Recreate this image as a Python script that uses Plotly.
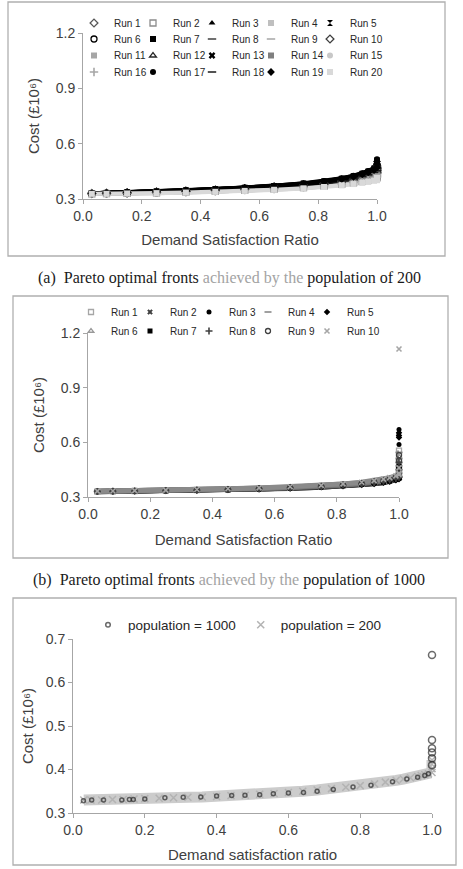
import plotly.graph_objects as go

W, H = 463, 869


def px(v):
    return v / W


def py(v):
    return 1 - v / H


FONT = "Liberation Sans, Arial, Helvetica, sans-serif"
SERIF = "Liberation Serif, Times New Roman, serif"
TXT = "#404040"
AXC = "#a6a6a6"

# ---------------- tick labels ----------------
X_TICKS = [0.0, 0.2, 0.4, 0.6, 0.8, 1.0]
AB_Y_TICKS = [0.3, 0.6, 0.9, 1.2]
C_Y_TICKS = [0.3, 0.4, 0.5, 0.6, 0.7]

# ---------------- panel (a): population 200, 20 runs ----------------
A_X = [0.03, 0.08, 0.15, 0.25, 0.35, 0.45, 0.55, 0.65, 0.75, 0.82, 0.88, 0.92, 0.95, 0.97, 0.99, 1.0, 1.0, 1.0]
A_RUN1 = [.330, .331, .333, .337, .342, .347, .354, .362, .373, .383, .395, .406, .417, .425, .437, .445, .459, .470]
A_RUN2 = [.328, .329, .331, .333, .337, .341, .347, .353, .362, .370, .380, .388, .396, .402, .409, .414, .422, .429]
A_RUN3 = [.331, .332, .335, .340, .345, .352, .359, .369, .381, .392, .406, .419, .432, .443, .458, .468, .486, .500]
A_RUN4 = [.328, .328, .330, .332, .336, .340, .345, .351, .359, .367, .376, .383, .391, .396, .402, .406, .413, .419]
A_RUN5 = [.331, .333, .336, .341, .346, .353, .361, .371, .384, .395, .410, .424, .437, .449, .465, .476, .495, .510]
A_RUN6 = [.330, .332, .334, .338, .343, .350, .357, .365, .377, .387, .401, .413, .424, .434, .447, .457, .472, .485]
A_RUN7 = [.331, .333, .335, .340, .346, .353, .360, .370, .382, .394, .408, .422, .435, .446, .461, .472, .491, .505]
A_RUN8 = [.330, .331, .334, .337, .342, .348, .355, .363, .374, .384, .397, .408, .419, .428, .440, .449, .463, .475]
A_RUN9 = [.329, .330, .332, .335, .339, .344, .349, .357, .366, .375, .385, .395, .404, .411, .420, .425, .436, .444]
A_RUN10 = [.330, .331, .333, .337, .341, .347, .353, .361, .372, .381, .393, .404, .414, .423, .434, .441, .454, .465]
A_RUN11 = [.329, .329, .332, .334, .338, .343, .349, .356, .365, .373, .384, .392, .401, .408, .416, .422, .431, .439]
A_RUN12 = [.330, .332, .335, .339, .344, .350, .358, .367, .378, .389, .403, .415, .427, .437, .451, .461, .477, .490]
A_RUN13 = [.330, .332, .335, .339, .345, .351, .358, .368, .380, .391, .404, .417, .430, .440, .454, .464, .482, .495]
A_RUN14 = [.329, .330, .332, .336, .340, .345, .351, .359, .369, .378, .389, .399, .409, .417, .427, .433, .445, .454]
A_RUN15 = [.328, .329, .331, .333, .336, .341, .346, .352, .361, .368, .378, .386, .393, .399, .406, .410, .417, .424]
A_RUN16 = [.329, .329, .331, .334, .337, .342, .348, .354, .363, .371, .382, .390, .398, .405, .413, .418, .426, .434]
A_RUN17 = [.331, .333, .336, .341, .347, .354, .362, .372, .385, .397, .412, .426, .440, .452, .468, .480, .500, .515]
A_RUN18 = [.330, .331, .334, .338, .343, .349, .356, .364, .376, .386, .399, .410, .422, .431, .444, .453, .468, .480]
A_RUN19 = [.331, .333, .336, .340, .346, .352, .360, .369, .380, .393, .407, .420, .433, .444, .457, .470, .488, .503]
A_RUN20 = [.328, .328, .330, .332, .335, .339, .344, .350, .358, .365, .374, .381, .388, .393, .399, .402, .408, .414]
A_RUNS = [A_RUN1, A_RUN2, A_RUN3, A_RUN4, A_RUN5, A_RUN6, A_RUN7, A_RUN8, A_RUN9, A_RUN10,
          A_RUN11, A_RUN12, A_RUN13, A_RUN14, A_RUN15, A_RUN16, A_RUN17, A_RUN18, A_RUN19, A_RUN20]
A_NAMES = ["Run %d" % i for i in range(1, 21)]

# ---------------- panel (b): population 1000, 10 runs ----------------
B_X = [0.03, 0.08, 0.15, 0.25, 0.35, 0.45, 0.55, 0.65, 0.75, 0.82, 0.88, 0.92, 0.95, 0.97, 0.99,
       1.0, 1.0, 1.0, 1.0, 1.0, 1.0]
B_RUN1 = [.330, .331, .333, .335, .338, .341, .346, .351, .358, .365, .373, .381, .388, .395, .404, .410, .430, .460, .500, .530, .555]
B_RUN2 = [.330, .331, .332, .334, .337, .340, .344, .350, .356, .363, .370, .377, .384, .391, .399, .405, .440, .470, None, None, None]
B_RUN3 = [.329, .330, .331, .333, .336, .339, .343, .348, .354, .360, .368, .374, .380, .386, .394, .400, .450, None, .588, None, .670]
B_RUN4 = [.331, .332, .333, .336, .339, .342, .347, .352, .360, .367, .375, .383, .390, .397, .406, .412, .430, .470, .510, .545, None]
B_RUN5 = [.329, .330, .331, .333, .335, .338, .342, .347, .353, .359, .366, .372, .378, .384, .392, .398, .460, None, .626, .637, .653]
B_RUN6 = [.331, .332, .334, .337, .340, .344, .348, .354, .362, .369, .378, .387, .394, .402, .411, .417, .440, .480, .520, None, None]
B_RUN7 = [.330, .331, .332, .334, .336, .339, .344, .349, .355, .362, .369, .376, .382, .388, .397, .403, .440, .470, None, None, None]
B_RUN8 = [.330, .331, .333, .335, .337, .341, .345, .351, .357, .364, .372, .379, .386, .393, .402, .408, .450, .490, None, None, None]
B_RUN9 = [.331, .332, .334, .336, .339, .343, .348, .353, .361, .368, .376, .385, .392, .400, .409, .415, .440, .500, .530, None, None]
B_RUN10 = [.332, .333, .335, .338, .341, .345, .350, .356, .364, .372, .381, .390, .398, .406, .416, .422, .430, .460, None, 1.112, None]
B_RUNS = [B_RUN1, B_RUN2, B_RUN3, B_RUN4, B_RUN5, B_RUN6, B_RUN7, B_RUN8, B_RUN9, B_RUN10]
B_NAMES = ["Run %d" % i for i in range(1, 11)]

# ---------------- panel (c): comparison ----------------
C_X200 = [0.03, 0.05, 0.08, 0.11, 0.14, 0.17, 0.20, 0.24, 0.28, 0.32, 0.36, 0.40, 0.44, 0.48, 0.52, 0.56, 0.60,
          0.64, 0.68, 0.72, 0.76, 0.80, 0.84, 0.87, 0.90, 0.92, 0.94, 0.96, 0.97, 0.98, 0.99, 1.0, 1.0, 1.0, 1.0]
C_Y200 = [0.330, 0.330, 0.330, 0.331, 0.331, 0.332, 0.333, 0.334, 0.335, 0.336, 0.337, 0.338, 0.340, 0.341, 0.343,
          0.345, 0.347, 0.350, 0.353, 0.356, 0.359, 0.363, 0.367, 0.371, 0.375, 0.378, 0.381, 0.384, 0.386, 0.388,
          0.390, 0.393, 0.402, 0.412, 0.422]
C_X1000 = [0.029, 0.052, 0.085, 0.136, 0.157, 0.168, 0.200, 0.256, 0.307, 0.356, 0.400, 0.442, 0.479, 0.520, 0.558,
           0.600, 0.642, 0.680, 0.725, 0.780, 0.830, 0.890, 0.930, 0.960, 0.980, 0.990, 1.0, 1.0, 1.0, 1.0, 1.0, 1.0]
C_Y1000 = [0.328, 0.330, 0.330, 0.330, 0.331, 0.331, 0.332, 0.335, 0.336, 0.337, 0.339, 0.340, 0.341, 0.342, 0.344,
           0.346, 0.347, 0.350, 0.354, 0.360, 0.364, 0.372, 0.378, 0.382, 0.386, 0.390, 0.410, 0.426, 0.439, 0.449,
           0.468, 0.663]
C_NAMES = ["population = 1000", "population = 200"]

# ---------------- texts ----------------
Y_TITLE = "Cost (£10\u2076)"
X_TITLE_AB = "Demand Satisfaction Ratio"
X_TITLE_C = "Demand satisfaction ratio"
GR = "<span style='color:#a3a3a3'>achieved by the</span>"
CAPTION_A = "(a)\u00a0\u00a0Pareto optimal fronts " + GR + " population of 200"
CAPTION_B = "(b)\u00a0\u00a0Pareto optimal fronts " + GR + " population of 1000"

# ---------------- styles ----------------
A_SYMBOLS = ['diamond-open', 'square-open', 'triangle-up', 'square', 'hourglass',
             'circle-open', 'square', 'line-ew-open', 'line-ew-open', 'diamond-open',
             'square', 'triangle-up-open', 'x', 'square', 'circle',
             'cross-thin-open', 'circle', 'line-ew-open', 'diamond', 'square']
A_COLORS = ['#595959', '#8c8c8c', '#000000', '#bfbfbf', '#000000',
            '#000000', '#000000', '#404040', '#a6a6a6', '#404040',
            '#a6a6a6', '#262626', '#000000', '#7f7f7f', '#c8c8c8',
            '#a6a6a6', '#000000', '#1a1a1a', '#000000', '#d9d9d9']
A_LEGENDS = ['legend'] * 5 + ['legend2'] * 5 + ['legend3'] * 5 + ['legend4'] * 5

B_SYMBOLS = ['square-open', 'x', 'circle', 'line-ew-open', 'diamond',
             'triangle-up-open', 'square', 'cross-thin-open', 'circle-open', 'x-thin-open']
B_COLORS = ['#a6a6a6', '#404040', '#000000', '#808080', '#000000',
            '#999999', '#000000', '#404040', '#404040', '#a6a6a6']
B_LINE_COLORS = ['#8c8c8c', '#5a5a5a', '#3a3a3a', '#8c8c8c', '#3a3a3a',
                 '#9a9a9a', '#3a3a3a', '#6e6e6e', '#7a7a7a', '#8a8a8a']
B_LEGENDS = ['legend5'] * 5 + ['legend6'] * 5

fig = go.Figure()


def line_width_for(sym):
    if sym.startswith('line') or 'thin' in sym:
        return 1.6
    if sym.endswith('-open'):
        return 1.3
    return 0


def add_runs(xs, runs, names, symbols, colors, line_colors, legends, xref, yref, msize, lw):
    for ys, lc in zip(runs, line_colors):
        fig.add_trace(go.Scatter(x=xs, y=ys, mode='lines', line=dict(color=lc, width=lw),
                                 xaxis=xref, yaxis=yref, showlegend=False, hoverinfo='skip',
                                 cliponaxis=False, connectgaps=False))
    for i, (ys, n, s, c, lg) in enumerate(zip(runs, names, symbols, colors, legends)):
        # last entry of each legend row gets room for its label
        lw_item = 45 if i % 5 == 4 else 14
        fig.add_trace(go.Scatter(x=xs, y=ys, mode='markers', name=n, legend=lg, legendwidth=lw_item,
                                 marker=dict(symbol=s, size=msize, color=c,
                                             line=dict(color=c, width=line_width_for(s))),
                                 xaxis=xref, yaxis=yref, cliponaxis=False))


add_runs(A_X, A_RUNS, A_NAMES, A_SYMBOLS, A_COLORS, A_COLORS, A_LEGENDS, 'x', 'y', 6, 4.2)
add_runs(B_X, B_RUNS, B_NAMES, B_SYMBOLS, B_COLORS, B_LINE_COLORS, B_LEGENDS, 'x2', 'y2', 5, 5)

# panel (c)
fig.add_trace(go.Scatter(x=C_X200, y=C_Y200, mode='lines', line=dict(color='#cccccc', width=11),
                         xaxis='x3', yaxis='y3', showlegend=False, hoverinfo='skip', cliponaxis=False))
fig.add_trace(go.Scatter(x=C_X200, y=C_Y200, mode='markers', name=C_NAMES[1], legend='legend7', legendrank=2,
                         marker=dict(symbol='x-thin-open', size=7, color='#b3b3b3',
                                     line=dict(color='#b3b3b3', width=1.5)),
                         xaxis='x3', yaxis='y3', cliponaxis=False))
# points on the front read as small dots; the isolated high-cost points as visible rings
c1000_sizes = [7 if y > 0.4 else 4 for y in C_Y1000]
fig.add_trace(go.Scatter(x=C_X1000, y=C_Y1000, mode='markers', name=C_NAMES[0], legend='legend7', legendrank=1,
                         marker=dict(symbol='circle-open', size=c1000_sizes, color='#2b2b2b',
                                     line=dict(color='#2b2b2b', width=1.5)),
                         xaxis='x3', yaxis='y3', cliponaxis=False))

ax = dict(showline=True, linecolor=AXC, linewidth=1, ticks='outside', ticklen=4, tickwidth=1,
          tickcolor=AXC, showgrid=False, zeroline=False, automargin=False,
          tickfont=dict(family=FONT, size=14, color=TXT), tickformat='.1f', fixedrange=True)


def xtitle(text, standoff):
    return dict(text=text, standoff=standoff, font=dict(family=FONT, size=15, color=TXT))


def legend_cfg(xpx, ypx, size):
    return dict(x=px(xpx), y=py(ypx), xanchor='left', yanchor='middle', orientation='h',
                font=dict(family=FONT, size=size, color='#262626'), bgcolor='rgba(0,0,0,0)',
                borderwidth=0, itemwidth=30,
                traceorder='normal', itemclick=False, itemdoubleclick=False)


annotations = []


def note(text, x, y, size, family=FONT, color=TXT):
    annotations.append(dict(text=text, x=px(x), y=py(y), xref='paper', yref='paper', showarrow=False,
                            xanchor='center', yanchor='middle',
                            font=dict(family=family, size=size, color=color)))


note(CAPTION_A, 229, 278, 16, SERIF, '#1a1a1a')
note(CAPTION_B, 229, 580, 16, SERIF, '#1a1a1a')

shapes = []
for x0, y0, x1, y1 in [(8, 2, 445, 256), (13, 296, 448, 558), (13, 598, 456, 865)]:
    shapes.append(dict(type='rect', xref='paper', yref='paper', x0=px(x0), x1=px(x1), y0=py(y1), y1=py(y0),
                       line=dict(color='#b0b0b0', width=1.3), fillcolor='rgba(0,0,0,0)'))

fig.update_layout(
    width=W, height=H, margin=dict(l=0, r=0, t=0, b=0, pad=0),
    paper_bgcolor='white', plot_bgcolor='white', showlegend=True,
    xaxis=dict(ax, domain=[px(83), px(377)], range=[0, 1], tickvals=X_TICKS, anchor='y',
               title=xtitle(X_TITLE_AB, 11)),
    yaxis=dict(ax, domain=[py(199), py(33)], range=[0.3, 1.2], tickvals=AB_Y_TICKS, anchor='x',
               title=xtitle(Y_TITLE, 12)),
    xaxis2=dict(ax, domain=[px(88), px(399)], range=[0, 1], tickvals=X_TICKS, anchor='y2',
                title=xtitle(X_TITLE_AB, 13)),
    yaxis2=dict(ax, domain=[py(497), py(333)], range=[0.3, 1.2], tickvals=AB_Y_TICKS, anchor='x2',
                title=xtitle(Y_TITLE, 12)),
    xaxis3=dict(ax, domain=[px(73), px(432)], range=[0, 1], tickvals=X_TICKS, anchor='y3',
                title=xtitle(X_TITLE_C, 12)),
    yaxis3=dict(ax, domain=[py(813), py(639)], range=[0.3, 0.7], tickvals=C_Y_TICKS, anchor='x3',
                title=xtitle(Y_TITLE, 8)),
    legend=legend_cfg(74, 23, 10),
    legend2=legend_cfg(74, 39, 10),
    legend3=legend_cfg(74, 55.5, 10),
    legend4=legend_cfg(74, 72, 10),
    legend5=legend_cfg(71, 312, 10),
    legend6=legend_cfg(71, 331, 10),
    legend7=legend_cfg(88, 625, 13.5),
    annotations=annotations,
    shapes=shapes,
    hovermode=False,
)

fig.write_html("out.html")
